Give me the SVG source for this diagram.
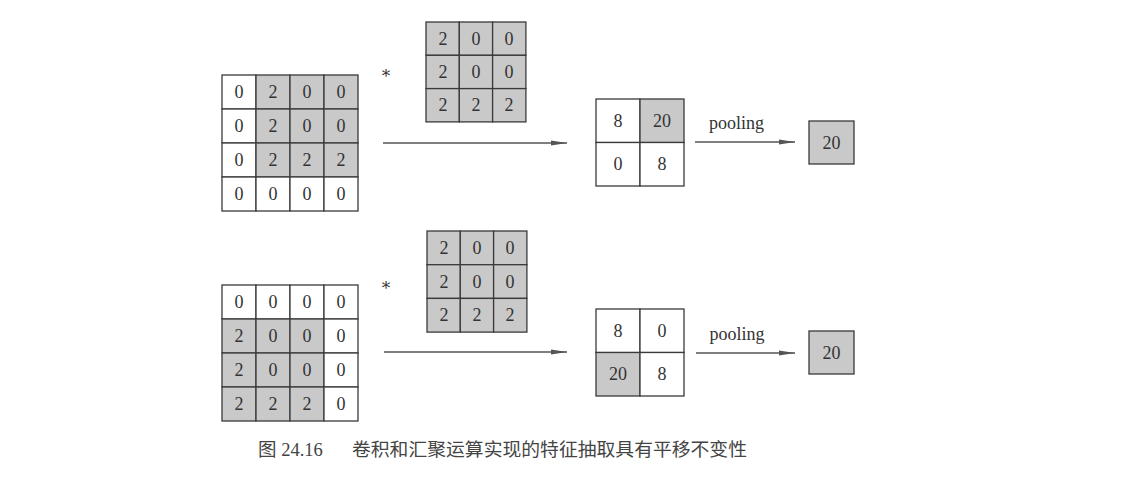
<svg xmlns="http://www.w3.org/2000/svg" width="1129" height="478" viewBox="0 0 1129 478">
<style>
.c{stroke:#3a3a3a;stroke-width:1.3}
.w{fill:#ffffff}
.g{fill:#c9c9c9}
.t{font-family:"Liberation Serif","DejaVu Serif",serif;font-size:18px;fill:#333;text-anchor:middle}
.ast{font-family:"DejaVu Serif",serif;font-size:17px;fill:#333;text-anchor:middle}
.ln{stroke:#555;stroke-width:1.3;fill:none}
.cap{font-family:"Liberation Serif","Noto Sans CJK SC",serif;font-size:18.5px;fill:#444}
</style>
<defs>
<marker id="ah" markerWidth="16" markerHeight="8" refX="16" refY="4" orient="auto" markerUnits="userSpaceOnUse">
<path d="M0,1.5 L16,4 L0,6.5 Z" fill="#555"/>
</marker>
</defs>
<rect width="1129" height="478" fill="#fff"/>

<g id="input-top">
<rect class="c w" x="222" y="75" width="34" height="34"/><rect class="c g" x="256" y="75" width="34" height="34"/><rect class="c g" x="290" y="75" width="34" height="34"/><rect class="c g" x="324" y="75" width="34" height="34"/>
<rect class="c w" x="222" y="109" width="34" height="34"/><rect class="c g" x="256" y="109" width="34" height="34"/><rect class="c g" x="290" y="109" width="34" height="34"/><rect class="c g" x="324" y="109" width="34" height="34"/>
<rect class="c w" x="222" y="143" width="34" height="34"/><rect class="c g" x="256" y="143" width="34" height="34"/><rect class="c g" x="290" y="143" width="34" height="34"/><rect class="c g" x="324" y="143" width="34" height="34"/>
<rect class="c w" x="222" y="177" width="34" height="34"/><rect class="c w" x="256" y="177" width="34" height="34"/><rect class="c w" x="290" y="177" width="34" height="34"/><rect class="c w" x="324" y="177" width="34" height="34"/>
<text class="t" x="239" y="98">0</text><text class="t" x="273" y="98">2</text><text class="t" x="307" y="98">0</text><text class="t" x="341" y="98">0</text>
<text class="t" x="239" y="132">0</text><text class="t" x="273" y="132">2</text><text class="t" x="307" y="132">0</text><text class="t" x="341" y="132">0</text>
<text class="t" x="239" y="166">0</text><text class="t" x="273" y="166">2</text><text class="t" x="307" y="166">2</text><text class="t" x="341" y="166">2</text>
<text class="t" x="239" y="200">0</text><text class="t" x="273" y="200">0</text><text class="t" x="307" y="200">0</text><text class="t" x="341" y="200">0</text>
</g>

<g id="kernel-top">
<rect class="c g" x="426" y="22" width="33.3" height="33.3"/><rect class="c g" x="459.3" y="22" width="33.3" height="33.3"/><rect class="c g" x="492.6" y="22" width="33.3" height="33.3"/>
<rect class="c g" x="426" y="55.3" width="33.3" height="33.3"/><rect class="c g" x="459.3" y="55.3" width="33.3" height="33.3"/><rect class="c g" x="492.6" y="55.3" width="33.3" height="33.3"/>
<rect class="c g" x="426" y="88.6" width="33.3" height="33.3"/><rect class="c g" x="459.3" y="88.6" width="33.3" height="33.3"/><rect class="c g" x="492.6" y="88.6" width="33.3" height="33.3"/>
<text class="t" x="443" y="45">2</text><text class="t" x="476" y="45">0</text><text class="t" x="509" y="45">0</text>
<text class="t" x="443" y="78">2</text><text class="t" x="476" y="78">0</text><text class="t" x="509" y="78">0</text>
<text class="t" x="443" y="111">2</text><text class="t" x="476" y="111">2</text><text class="t" x="509" y="111">2</text>
</g>
<text class="ast" x="386" y="82">*</text>

<g id="output-top">
<rect class="c w" x="596" y="99" width="44" height="43.5"/><rect class="c g" x="640" y="99" width="44" height="43.5"/>
<rect class="c w" x="596" y="142.5" width="44" height="43.5"/><rect class="c w" x="640" y="142.5" width="44" height="43.5"/>
<text class="t" x="618" y="127">8</text><text class="t" x="662" y="127">20</text>
<text class="t" x="618" y="170">0</text><text class="t" x="662" y="170">8</text>
</g>

<g id="result-top">
<rect class="c g" x="809" y="121" width="45" height="43"/>
<text class="t" x="831.5" y="149">20</text>
</g>

<g id="input-bottom">
<rect class="c w" x="222" y="285" width="34" height="34"/><rect class="c w" x="256" y="285" width="34" height="34"/><rect class="c w" x="290" y="285" width="34" height="34"/><rect class="c w" x="324" y="285" width="34" height="34"/>
<rect class="c g" x="222" y="319" width="34" height="34"/><rect class="c g" x="256" y="319" width="34" height="34"/><rect class="c g" x="290" y="319" width="34" height="34"/><rect class="c w" x="324" y="319" width="34" height="34"/>
<rect class="c g" x="222" y="353" width="34" height="34"/><rect class="c g" x="256" y="353" width="34" height="34"/><rect class="c g" x="290" y="353" width="34" height="34"/><rect class="c w" x="324" y="353" width="34" height="34"/>
<rect class="c g" x="222" y="387" width="34" height="34"/><rect class="c g" x="256" y="387" width="34" height="34"/><rect class="c g" x="290" y="387" width="34" height="34"/><rect class="c w" x="324" y="387" width="34" height="34"/>
<text class="t" x="239" y="308">0</text><text class="t" x="273" y="308">0</text><text class="t" x="307" y="308">0</text><text class="t" x="341" y="308">0</text>
<text class="t" x="239" y="342">2</text><text class="t" x="273" y="342">0</text><text class="t" x="307" y="342">0</text><text class="t" x="341" y="342">0</text>
<text class="t" x="239" y="376">2</text><text class="t" x="273" y="376">0</text><text class="t" x="307" y="376">0</text><text class="t" x="341" y="376">0</text>
<text class="t" x="239" y="410">2</text><text class="t" x="273" y="410">2</text><text class="t" x="307" y="410">2</text><text class="t" x="341" y="410">0</text>
</g>

<g id="kernel-bottom">
<rect class="c g" x="427" y="231" width="33.3" height="33.7"/><rect class="c g" x="460.3" y="231" width="33.3" height="33.7"/><rect class="c g" x="493.6" y="231" width="33.3" height="33.7"/>
<rect class="c g" x="427" y="264.7" width="33.3" height="33.7"/><rect class="c g" x="460.3" y="264.7" width="33.3" height="33.7"/><rect class="c g" x="493.6" y="264.7" width="33.3" height="33.7"/>
<rect class="c g" x="427" y="298.4" width="33.3" height="33.7"/><rect class="c g" x="460.3" y="298.4" width="33.3" height="33.7"/><rect class="c g" x="493.6" y="298.4" width="33.3" height="33.7"/>
<text class="t" x="444" y="254">2</text><text class="t" x="477" y="254">0</text><text class="t" x="510" y="254">0</text>
<text class="t" x="444" y="288">2</text><text class="t" x="477" y="288">0</text><text class="t" x="510" y="288">0</text>
<text class="t" x="444" y="321">2</text><text class="t" x="477" y="321">2</text><text class="t" x="510" y="321">2</text>
</g>
<text class="ast" x="386" y="294">*</text>

<g id="output-bottom">
<rect class="c w" x="596" y="309" width="44" height="43.5"/><rect class="c w" x="640" y="309" width="44" height="43.5"/>
<rect class="c g" x="596" y="352.5" width="44" height="43.5"/><rect class="c w" x="640" y="352.5" width="44" height="43.5"/>
<text class="t" x="618" y="337">8</text><text class="t" x="662" y="337">0</text>
<text class="t" x="618" y="380">20</text><text class="t" x="662" y="380">8</text>
</g>

<g id="result-bottom">
<rect class="c g" x="809" y="331" width="45" height="43"/>
<text class="t" x="831.5" y="359">20</text>
</g>

<g id="connectors">
<line class="ln" x1="383" y1="143" x2="567" y2="143" marker-end="url(#ah)"/>
<line class="ln" x1="695" y1="142" x2="795" y2="142" marker-end="url(#ah)"/>
<line class="ln" x1="384" y1="352" x2="567" y2="352" marker-end="url(#ah)"/>
<line class="ln" x1="696" y1="353" x2="795" y2="353" marker-end="url(#ah)"/>
<text class="t" x="736.5" y="129">pooling</text>
<text class="t" x="737" y="340">pooling</text>
</g>

<g id="caption">
<text class="cap" x="258" y="456">图 24.16</text>
<text class="cap" x="352" y="456" textLength="395" lengthAdjust="spacingAndGlyphs">卷积和汇聚运算实现的特征抽取具有平移不变性</text>
</g>
</svg>
